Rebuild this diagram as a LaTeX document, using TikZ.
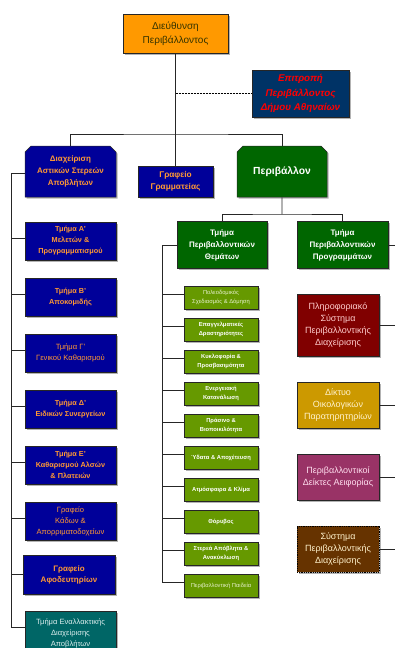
\documentclass[tikz,border=0pt]{standalone}
\usepackage{fontspec}
\setmainfont{Liberation Sans}
\usetikzlibrary{shapes.misc,shadows}
\definecolor{orangebox}{HTML}{FF9900}
\definecolor{darktext}{HTML}{333300}
\definecolor{nightblue}{HTML}{003366}
\definecolor{navybox}{HTML}{000099}
\definecolor{orangetext}{HTML}{FF9933}
\definecolor{greenbox}{HTML}{006600}
\definecolor{olivebox}{HTML}{669900}
\definecolor{olivetext}{HTML}{E6F0CC}
\definecolor{tealbox}{HTML}{006666}
\definecolor{tealtext}{HTML}{DDEEEE}
\definecolor{redbox}{HTML}{800000}
\definecolor{redtext}{HTML}{FFCCCC}
\definecolor{goldbox}{HTML}{CC9900}
\definecolor{plumbox}{HTML}{993366}
\definecolor{plumtext}{HTML}{FFDDEE}
\definecolor{brownbox}{HTML}{663300}
\definecolor{browntext}{HTML}{FFF2CC}
\begin{document}
\begin{tikzpicture}[x=1pt,y=-1pt,
		box/.style={draw=black!85,line width=0.5pt,align=center,inner sep=1pt,
			drop shadow={shadow xshift=1.5pt,shadow yshift=-1.5pt,fill=black!50,opacity=.6}},
		snipped/.style={chamfered rectangle,chamfered rectangle corners={north west,north east},
			chamfered rectangle xsep=3pt,chamfered rectangle ysep=3pt},
		leftbox/.style={box,fill=navybox,text=orangetext,minimum width=91pt,minimum height=38pt,
			font=\bfseries\fontsize{7.3}{11}\selectfont},
		themebox/.style={box,fill=olivebox,text=white,minimum width=74pt,minimum height=23pt,
			font=\bfseries\fontsize{5.8}{8.6}\selectfont},
		progbox/.style={box,text=white,minimum width=82pt,minimum height=46pt,
			font=\fontsize{9}{12.2}\selectfont},
		link/.style={draw=black!85,line width=0.7pt}]
	\useasboundingbox (0,0) rectangle (395,648);

	\node (dir) at (175.5,33.5)[box,fill=orangebox,text=darktext,minimum width=105pt,minimum height=39pt,
		font=\fontsize{10}{14}\selectfont] {Διεύθυνση\\Περιβάλλοντος};
	\node (epit) at (300.5,93.5)[box,fill=nightblue,text=red,minimum width=97pt,minimum height=47pt,
		font=\bfseries\itshape\fontsize{9.8}{14.5}\selectfont] {Επιτροπή\\Περιβάλλοντος\\Δήμου Αθηναίων};

	\node (diax) at (70.5,171.5)[box,snipped,fill=navybox,text=orangetext,minimum width=91pt,minimum height=51pt,
		font=\bfseries\fontsize{8}{11.7}\selectfont] {Διαχείριση\\Αστικών Στερεών\\Αποβλήτων};
	\node (graf) at (175.5,181.5)[box,fill=navybox,text=orangetext,minimum width=75pt,minimum height=31pt,
		font=\bfseries\fontsize{8.3}{12.3}\selectfont] {Γραφείο\\Γραμματείας};
	\node (periv) at (282,171.5)[box,snipped,fill=greenbox,text=white,minimum width=90pt,minimum height=51pt,
		font=\bfseries\fontsize{10.3}{12}\selectfont] {Περιβάλλον};

	\node (them) at (222,245)[box,fill=greenbox,text=white,minimum width=90pt,minimum height=47pt,
		font=\bfseries\fontsize{8}{12}\selectfont] {Τμήμα\\Περιβαλλοντικών\\Θεμάτων};
	\node (progr) at (342.5,245)[box,fill=greenbox,text=white,minimum width=91pt,minimum height=47pt,
		font=\bfseries\fontsize{8}{12}\selectfont] {Τμήμα\\Περιβαλλοντικών\\Προγραμμάτων};

	\node (ta) at (70.5,241)[leftbox] {Τμήμα Α’\\Μελετών \&\\Προγραμματισμού};
	\node (tb) at (70.5,297)[leftbox] {Τμήμα Β’\\Αποκομιδής};
	\node (tc) at (70.5,353)[leftbox,font=\fontsize{7.6}{11}\selectfont] {Τμήμα Γ’\\Γενικού Καθαρισμού};
	\node (td) at (70.5,409)[leftbox] {Τμήμα Δ’\\Ειδικών Συνεργείων};
	\node (te) at (70.5,465)[leftbox] {Τμήμα Ε’\\Καθαρισμού Αλσών\\\& Πλατειών};
	\node (kad) at (70.5,521)[leftbox,font=\fontsize{7.6}{11}\selectfont] {Γραφείο\\Κάδων \&\\Απορριματοδοχείων};
	\node (afo) at (69,574.5)[leftbox,minimum width=92pt,minimum height=39pt,
		font=\bfseries\fontsize{8}{11}\selectfont] {Γραφείο\\Αφοδευτηρίων};
	\node (ena) at (70.5,633)[leftbox,fill=tealbox,text=tealtext,minimum height=44pt,
		font=\fontsize{7.6}{11}\selectfont] {Τμήμα Εναλλακτικής\\Διαχείρισης\\Αποβλήτων};

	\node (g1) at (221,297.5)[themebox,font=\fontsize{5.8}{8.6}\selectfont,text=olivetext] {Πολεοδομικός\\Σχεδιασμός \& Δόμηση};
	\node (g2) at (221,329.5)[themebox] {Επαγγελματικές\\Δραστηριότητες};
	\node (g3) at (221,361.5)[themebox] {Κυκλοφορία \&\\Προσβασιμότητα};
	\node (g4) at (221,393.5)[themebox] {Ενεργειακή\\Κατανάλωση};
	\node (g5) at (221,425.5)[themebox] {Πράσινο \&\\Βιοποικιλότητα};
	\node (g6) at (221,457.5)[themebox] {Ύδατα \& Αποχέτευση};
	\node (g7) at (221,489.5)[themebox] {Ατμόσφαιρα \& Κλίμα};
	\node (g8) at (221,521.5)[themebox] {Θόρυβος};
	\node (g9) at (221,553.5)[themebox] {Στερεά Απόβλητα \&\\Ανακύκλωση};
	\node (g10) at (221,585.5)[themebox,font=\fontsize{5.8}{8.6}\selectfont,text=olivetext] {Περιβαλλοντική Παιδεία};

	\node (pa) at (338,325)[progbox,fill=redbox,text=redtext,minimum height=62pt] {Πληροφοριακό\\Σύστημα\\Περιβαλλοντικής\\Διαχείρισης};
	\node (pb) at (338,405)[progbox,fill=goldbox,text=browntext] {Δίκτυο\\Οικολογικών\\Παρατηρητηρίων};
	\node (pc) at (338,477)[progbox,fill=plumbox,text=plumtext] {Περιβαλλοντικοί\\Δείκτες Αειφορίας};
	\node (pd) at (338,549)[progbox,fill=brownbox,text=browntext,draw=black,line width=0.9pt,
		dash pattern=on 1pt off 0.8pt] {Σύστημα\\Περιβαλλοντικής\\Διαχείρισης};

	\coordinate (ep) at (175.5,93.5);
	\coordinate (topbus) at (175.5,134);
	\coordinate (envbus) at (282,214);
	\coordinate (lbot) at (11,627);
	\coordinate (gbot) at (162,582);
	\coordinate (rbot) at (400,549);

	\draw[link] (dir) -- (graf);
	\draw[link] (diax.north) |- (topbus) -| (periv.north);
	\draw[line width=1.3pt,dash pattern=on 1pt off 0.5pt] (ep) -- (epit.west);
	\draw[link] (periv) -- (envbus);
	\draw[link] (them.north) |- (envbus) -| (progr.north);

	\draw[link] ([yshift=-2pt]diax.west) -| (lbot);
	\foreach \n/\s in {ta/3,tb/3,tc/3,td/3,te/3,kad/3,afo/0,ena/6}{
		\path ([yshift=\s pt]\n.west) coordinate (c\n);
		\draw[link] (c\n) -- (c\n -| lbot);
	}
	\draw[link] (them.west) -| (gbot);
	\foreach \n in {g1,g2,g3,g4,g5,g6,g7,g8,g9,g10}{
		\path ([yshift=3.5pt]\n.west) coordinate (c\n);
		\draw[link] (c\n) -- (c\n -| gbot);
	}
	\draw[link] (progr.east) -| (rbot);
	\foreach \n in {pa,pb,pc,pd}
		\draw[link] (\n.east) -- (\n.east -| rbot);
\end{tikzpicture}
\end{document}
